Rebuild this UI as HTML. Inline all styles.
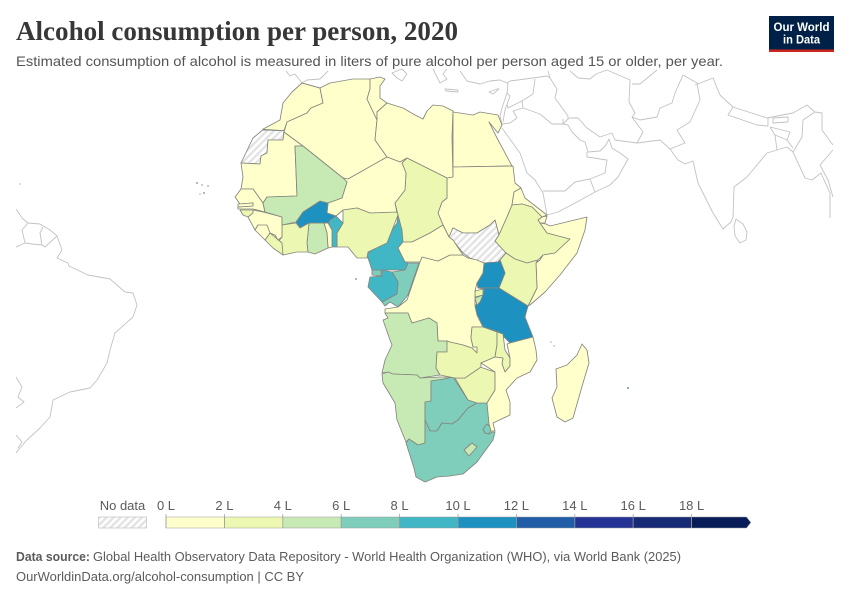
<!DOCTYPE html>
<html lang="en">
<head>
<meta charset="utf-8">
<title>Alcohol consumption per person, 2020</title>
<style>
html,body{margin:0;padding:0;background:#fff;}
svg{display:block;font-family:"Liberation Sans",sans-serif;}
</style>
</head>
<body>
<svg id="chart" xmlns="http://www.w3.org/2000/svg" width="850" height="600" viewBox="0 0 850 600">
  <defs>
    <pattern id="hatch" patternUnits="userSpaceOnUse" width="5" height="5" patternTransform="rotate(-45)">
      <rect width="5" height="5" fill="#ffffff"></rect>
      <rect width="5" height="2.4" fill="#e3e3e3"></rect>
    </pattern>
    <clipPath id="map-clip"><rect x="16" y="68" width="818" height="420"></rect></clipPath>
  </defs>
  <rect width="850" height="600" fill="#ffffff"></rect>

  <text x="16" y="40" font-family="'Liberation Serif',serif" font-weight="700" font-size="27" fill="#373737" textLength="442" lengthAdjust="spacingAndGlyphs">Alcohol consumption per person, 2020</text>
  <text x="16" y="66" font-size="14" fill="#555555" textLength="707" lengthAdjust="spacingAndGlyphs">Estimated consumption of alcohol is measured in liters of pure alcohol per person aged 15 or older, per year.</text>

  <g>
    <rect x="769" y="16" width="65" height="36" fill="#002147"></rect>
    <rect x="769" y="49.5" width="65" height="2.5" fill="#ce261e"></rect>
    <text x="801.5" y="31" text-anchor="middle" font-size="12" font-weight="700" fill="#ffffff" textLength="56" lengthAdjust="spacingAndGlyphs">Our World</text>
    <text x="801.5" y="43.5" text-anchor="middle" font-size="12" font-weight="700" fill="#ffffff" textLength="37" lengthAdjust="spacingAndGlyphs">in Data</text>
  </g>

  <g id="map" clip-path="url(#map-clip)">
    <g id="background-lands" fill="none" stroke="#c2c2c2" stroke-width="0.9" stroke-linejoin="round">
      <path d="M286,71 L290,76 L295,74 L302,83 L307,80 L320,79 L328,71"></path>
      <path d="M392,73 L402,69 L407,74 L402,81 L397,78 Z"></path>
      <path d="M433,69 L437,77 L440,83 L447,79 L443,74 L447,69"></path>
      <path d="M445,89 L458,90 L458,92 L446,91 Z"></path>
      <path d="M489,92 L497,89 L499,89 L493,94 Z"></path>
      <path d="M460,71 L467,81 L480,84 L490,81 L500,80 L507,83 L510,81 L533,78 L547,76 L550,78 L548,71"></path>
      <path d="M508,83 L507,93 L502,108 L500,116 L502,124 M535,79 L533,94 L522,101 L508,108 L507,104 M522,101 L523,108 L513,111 L517,118 L510,123 L502,124 M507,93 L510,96 L505,110 L503,122"></path>
      <path d="M523,108 L540,114 L552,124 L563,124 L568,119 L568,116 L555,98 L557,89 L550,78"></path>
      <path d="M563,119 L563,124 L568,125"></path>
      <path d="M568,119 L570,118 L578,118 L587,128 L600,137 L612,133 L615,140 L637,143 L660,140 L670,149 L678,160 L685,164 L693,161 L698,183 L713,213 L723,229 L731,222 L733,217 L734,187 L747,177 L767,153 L777,150 L787,147 L793,152 L805,178 L812,180 L821,173 L830,193 L830,218"></path>
      <path d="M736,219 L743,224 L747,232 L746,240 L740,243 L735,236 L734,226 Z"></path>
      <path d="M502,128 L520,153 L527,173 L535,180 L543,193 L547,215 L558,212 L577,202 L595,192 L610,185 L618,177 L628,159 L620,153 L612,148 L609,139 L606,145 L600,151 L588,152 L585,142 L580,140 L572,132 L568,125"></path>
      <path d="M543,191 L565,191 L575,182 L590,179 L605,173 L607,160 L587,157 L587,152 M590,179 L595,192"></path>
      <path d="M570,71 L578,78 L590,79 L596,74 L607,70"></path>
      <path d="M607,70 L630,80 L629,102 L635,113 L632,117 L643,132 L637,143"></path>
      <path d="M632,84 L640,84 L657,70 M683,75 L675,93 L672,103 L660,108 L657,117 L640,120 L632,117"></path>
      <path d="M683,75 L697,83 L700,100 L690,122 L677,130 L685,143 L670,149"></path>
      <path d="M695,85 L713,78 L720,95 L733,107 L767,118 L772,117 L793,113 L807,105 L815,112 L822,113 L822,130 L833,145"></path>
      <path d="M733,107 L728,115 L757,125 L768,126 L768,118"></path>
      <path d="M773,118 L788,117 L788,122 L773,123 Z"></path>
      <path d="M770,127 L775,135 L777,150 M770,127 L790,132 L787,140 L793,148 M775,135 L787,140"></path>
      <path d="M815,112 L803,120 L802,137 L793,152"></path>
      <path d="M833,150 L820,165 L828,180 L833,197"></path>
      <path d="M16,209 L22,218 L28,223 L40,224 L50,230 L57,236 L62,250 L57,258 L68,263 L69,266 L88,275 L110,279 L125,292 L133,293 L137,305 L133,317 L115,333 L110,350 L107,363 L97,380 L90,388 L70,392 L53,400 L50,417 L40,428 L27,440 L20,448 L16,453"></path>
      <path d="M28,223 L22,230 L25,243 L16,247 M25,243 L32,244 L42,245 L45,247 L57,236 M43,227 L40,233 L42,245"></path>
      <path d="M16,377 L22,387 L18,397 L24,402 L16,408 M16,435 L22,442 L18,448"></path>
    </g>
    <g id="countries" stroke="#85857e" stroke-width="0.85" stroke-linejoin="round"></g>
    <g id="islands" fill="#6f8f8f">
      <circle cx="197" cy="183" r="0.9"></circle>
      <circle cx="202" cy="185" r="0.7"></circle>
      <circle cx="208" cy="186" r="0.8"></circle>
      <circle cx="204" cy="193" r="0.9"></circle>
      <circle cx="200" cy="194" r="0.6"></circle>
      <circle cx="356" cy="279" r="0.9"></circle>
      <circle cx="551" cy="342" r="0.6"></circle>
      <circle cx="554" cy="346" r="0.6"></circle>
      <circle cx="628" cy="388" r="1"></circle>
      <circle cx="20" cy="184" r="0.9" fill="#cccccc"></circle>
    </g>
  </g>

  <g id="legend"></g>

  <text x="16" y="561" font-size="13" font-weight="700" fill="#5b5b5b" textLength="74" lengthAdjust="spacingAndGlyphs">Data source:</text>
  <text x="93" y="561" font-size="13" fill="#5b5b5b" textLength="588" lengthAdjust="spacingAndGlyphs">Global Health Observatory Data Repository - World Health Organization (WHO), via World Bank (2025)</text>
  <text x="16" y="581" font-size="13" fill="#5b5b5b" textLength="288" lengthAdjust="spacingAndGlyphs">OurWorldinData.org/alcohol-consumption | CC BY</text>
</svg>

<script>
// Legend data
const binTicks = [0, 2, 4, 6, 8, 10, 12, 14, 16, 18, 20];
const binColors = ["#ffffcc", "#ecf8b1", "#c7e9b4", "#7fcdbb", "#41b6c4", "#1d91c0", "#225ea8", "#253494", "#162a75", "#081d58"];
const tickLabels = ["0 L", "2 L", "4 L", "6 L", "8 L", "10 L", "12 L", "14 L", "16 L", "18 L"];

// Country data, litres per person (null = no data)
const countries = ["Morocco","Western Sahara","Mauritania","Algeria","Tunisia","Libya","Egypt","Sudan","South Sudan","Eritrea","Djibouti","Ethiopia","Somalia","Kenya","Uganda","Tanzania","Rwanda","Burundi","DR Congo","Congo","Gabon","Equatorial Guinea","Cameroon","Chad","Central African Republic","Niger","Nigeria","Benin","Togo","Ghana","Burkina Faso","Cote d'Ivoire","Liberia","Guinea","Sierra Leone","Guinea-Bissau","Senegal","Gambia","Mali","Angola","Namibia","Botswana","South Africa","Eswatini","Lesotho","Zimbabwe","Zambia","Malawi","Mozambique","Madagascar"];
const consumption = [0.5,null,0.1,0.6,1.3,0.1,0.1,0.5,null,1.0,0.5,3.1,0.1,3.1,10.9,10.8,3.8,4.2,1.5,7.5,8.9,7.1,9.0,3.2,1.5,0.5,3.4,8.7,1.7,4.5,10.5,3.0,2.9,0.8,1.2,2.6,0.9,1.8,4.7,5.0,5.5,7.5,7.6,7.1,5.0,3.5,3.8,3.6,1.6,1.5];

// Country outlines (map geometry, not data values)
const countryShapes = {
  "Morocco":"262.7,129.3 280,120 283,103 292,92 302,83 320,88 323,103 311,108 307,113 287,122 284,130.7",
  "Western Sahara":"262.7,130 284,130.7 283,140 268,140 267,153 261,156 260,164 241,163 253,138",
  "Mauritania":"241,163 260,164 261,156 267,153 268,140 283,140 284,132 303,146 295,146 297,196 267,197 263,203 253,189 241,189 243,177",
  "Algeria":"302,83 320,88 330,83 353,79 370,79 370,89 367,99 377,120 375,140 387,157 348,179 343,178 303,146 284,132 287,122 307,113 311,108 323,103 320,88",
  "Tunisia":"370,79 380,77 385,79 380,86 380,98 387,103 377,112 377,120 367,99 370,89",
  "Libya":"387,103 403,108 415,115 423,119 427,111 433,105 443,106 453,111 452,137 453,177 447,178 407,158 400,162 387,157 375,140 377,120 377,112",
  "Egypt":"453,112 473,115 480,112 498,115 502,125 498,133 489,122 497,138 512,166 453,167",
  "Sudan":"453,167 513,166 515,183 521,188 514,192 512,205 507,217 499,235 495,220 490,225 477,233 463,233 453,228 449,237 443,225 438,213 442,202 447,198 447,178 453,177",
  "South Sudan":"449,237 453,228 463,233 477,233 490,225 495,220 499,235 495,241 506,253 498,262 483,263 470,258 463,253 455,243",
  "Eritrea":"514,192 521,188 525,198 547,215 542,217 532,207 522,204 512,205",
  "Djibouti":"538,220 542,217 547,216 545,223 540,223",
  "Ethiopia":"512,205 522,204 532,207 542,217 538,220 540,223 547,233 570,239 555,253 543,255 538,260 527,263 515,259 506,253 495,241 499,235 507,217",
  "Somalia":"546,224 550,226 587,217 585,230 577,253 560,275 545,292 530,305 528,306 537,288 536,263 540,260 543,255 555,253 570,239 547,233 540,223",
  "Kenya":"500,260 506,253 515,259 527,263 538,260 536,263 537,288 528,306 499,288 505,273",
  "Uganda":"484,263 498,262 500,260 505,273 499,288 478,288 477,283 483,273",
  "Tanzania":"478,288 499,288 528,306 525,317 533,337 510,343 499,332 483,327 477,315 475,306 483,295 484,289",
  "Rwanda":"475,291 483,289 483,295 475,297",
  "Burundi":"475,298 483,295 480,302 477,305",
  "DR Congo":"420,262 422,257 438,261 450,255 463,255 468,258 477,260 484,263 483,273 477,283 475,291 475,306 477,315 483,327 472,327 471,338 473,347 477,347 477,353 472,348 463,345 450,342 447,341 438,341 437,323 429,318 412,323 408,313 385,313 385,309 398,307 407,300",
  "Congo":"408,263 419,263 408,295 398,307 390,302 385,306 382,302 397,294 398,282 392,272 405,270",
  "Gabon":"370,277 382,276 382,270 392,272 398,282 397,294 382,302 368,287",
  "Equatorial Guinea":"372,270 381,270 381,276 372,275",
  "Cameroon":"398,215 402,230 403,242 398,248 405,262 408,263 405,270 382,270 372,270 367,255 375,245 383,243 397,223",
  "Chad":"407,158 447,178 447,198 442,202 438,213 443,225 430,233 412,242 403,242 402,230 398,215 395,203 405,190 406,173 402,163",
  "Central African Republic":"403,242 398,248 405,262 420,262 422,257 438,261 450,255 463,255 453,240 449,237 443,225 430,233 412,242",
  "Niger":"387,157 400,162 407,158 402,163 406,173 405,190 395,203 397,213 370,213 357,208 343,210 336,216 327,213 328,203 342,198 347,182 343,178 348,179",
  "Nigeria":"343,210 357,208 370,213 397,212 398,215 387,243 368,252 367,258 357,258 348,247 337,247 337,233 343,223",
  "Benin":"330,220 336,216 343,223 337,233 337,247 332,247 332,230 328,225",
  "Togo":"324,223 328,223 332,230 332,247 328,248 327,233",
  "Ghana":"309,223 324,223 327,233 328,248 315,254 308,252 307,243",
  "Burkina Faso":"296,222 303,212 320,201 328,203 327,213 336,216 330,220 328,223 309,223 300,228",
  "Cote d'Ivoire":"282,225 296,223 300,228 309,223 307,243 308,252 297,252 283,255 278,242 282,237",
  "Liberia":"265,240 270,233 275,237 282,243 283,255 273,248",
  "Guinea":"248,217 253,210 263,212 282,217 282,237 278,240 275,235 270,233 267,227 258,225 255,230",
  "Sierra Leone":"255,230 258,225 267,225 270,233 265,240",
  "Guinea-Bissau":"240,210 253,210 253,213 248,217 243,215",
  "Senegal":"235,197 241,189 253,189 263,203 265,212 253,209 238,209 238,207 253,206 253,203 240,204",
  "Gambia":"238,204 253,203 253,206 238,207",
  "Mali":"295,146 303,146 343,178 347,182 342,198 328,203 320,201 303,212 296,222 282,225 282,217 265,212 263,203 267,197 297,196",
  "Angola":"385,313 408,313 412,323 429,318 437,323 438,341 447,341 448,352 437,352 436,368 440,375 420,378 417,375 393,374 388,372 382,373 385,360 392,345 390,340 383,320 388,318",
  "Namibia":"382,374 388,372 393,374 417,375 420,378 440,377 452,377 444,379 431,381 431,401 425,402 425,443 418,445 409,439 406,442 397,420 395,403 383,383",
  "Botswana":"431,381 444,379 453,377 468,400 477,403 468,408 458,420 452,424 442,423 437,431 430,431 425,420 425,402 431,401",
  "South Africa":"425,420 430,431 437,431 442,423 452,424 458,420 468,408 477,403 487,403 490,425 483,429 485,433 489,434 492,432 495,432 493,440 477,462 463,474 450,476 437,477 425,482 416,477 414,468 406,443 409,439 418,445 425,443",
  "Eswatini":"483,429 487,424 492,428 489,434 485,433",
  "Lesotho":"464,450 472,443 477,447 469,456",
  "Zimbabwe":"455,378 465,378 477,366 495,372 495,390 487,403 477,403 468,400",
  "Zambia":"447,341 450,342 463,345 472,348 477,353 477,347 473,347 471,338 472,327 483,327 497,332 497,345 495,357 481,363 481,367 465,378 455,378 440,375 436,368 437,352 447,352",
  "Malawi":"497,332 503,334 505,350 510,358 510,366 505,372 502,364 503,358 495,357 497,345",
  "Mozambique":"507,344 510,343 533,337 536,350 537,360 530,372 517,378 506,390 510,402 510,415 493,423 495,431 491,431 489,424 487,403 495,390 495,372 481,363 495,357 503,358 502,364 505,372 510,366 510,358",
  "Madagascar":"582,344 587,350 589,363 583,383 573,418 565,422 557,417 552,398 557,387 556,369 567,365 577,355"
};

const svgNS = "http://www.w3.org/2000/svg";

function slug(name) {
  return name.toLowerCase().replace(/[^a-z]+/g, "-");
}

// Colour scale: value -> bin colour
function colorFor(value) {
  if (value === null) return "url(#hatch)";
  for (let i = 0; i < binColors.length; i++) {
    if (value < binTicks[i + 1]) return binColors[i];
  }
  return binColors[binColors.length - 1];
}

// Legend axis: litres -> pixels
const legendLeft = 166;
const legendPxPerLitre = 29.2;
function legendX(v) {
  return legendLeft + (v - binTicks[0]) * legendPxPerLitre;
}

const countriesGroup = document.getElementById("countries");
countries.forEach(function (name, i) {
  const el = document.createElementNS(svgNS, "polygon");
  el.setAttribute("points", countryShapes[name]);
  el.setAttribute("fill", colorFor(consumption[i]));
  
  
  const tip = document.createElementNS(svgNS, "title");
  tip.textContent = name + (consumption[i] === null ? ": No data" : ": " + consumption[i] + " L");
  el.appendChild(tip);
  countriesGroup.appendChild(el);
});

const legend = document.getElementById("legend");

const noDataBox = document.createElementNS(svgNS, "rect");
noDataBox.setAttribute("x", "98.5");
noDataBox.setAttribute("y", "517");
noDataBox.setAttribute("width", "48");
noDataBox.setAttribute("height", "11");
noDataBox.setAttribute("fill", "url(#hatch)");
noDataBox.setAttribute("stroke", "#c9c9c9");
noDataBox.setAttribute("stroke-width", "0.8");


legend.appendChild(noDataBox);

const noDataLabel = document.createElementNS(svgNS, "text");
noDataLabel.setAttribute("x", "122.5");
noDataLabel.setAttribute("y", "510");
noDataLabel.setAttribute("text-anchor", "middle");
noDataLabel.setAttribute("font-size", "13");
noDataLabel.setAttribute("fill", "#5b5b5b");


noDataLabel.textContent = "No data";
legend.appendChild(noDataLabel);

binColors.forEach(function (color, i) {
  const x0 = legendX(binTicks[i]);
  const x1 = legendX(binTicks[i + 1]);
  const last = i === binColors.length - 1;
  const bin = document.createElementNS(svgNS, "path");
  const d = "M" + x0 + ",517 L" + (last ? x1 - 3.5 : x1) + ",517 " +
    (last ? "L" + (x1 + 0.8) + ",522.5 L" + (x1 - 3.5) + ",528 " : "L" + x1 + ",528 ") +
    "L" + x0 + ",528 Z";
  bin.setAttribute("d", d);
  bin.setAttribute("fill", color);
  bin.setAttribute("stroke", "#9a9a9a");
  bin.setAttribute("stroke-width", "0.6");
  
  
  legend.appendChild(bin);
});

tickLabels.forEach(function (label, i) {
  const x = legendX(binTicks[i]);
  const tick = document.createElementNS(svgNS, "line");
  tick.setAttribute("x1", x);
  tick.setAttribute("x2", x);
  tick.setAttribute("y1", "514");
  tick.setAttribute("y2", "528");
  tick.setAttribute("stroke", "#999999");
  tick.setAttribute("stroke-width", "0.7");
  
  
  legend.appendChild(tick);

  const text = document.createElementNS(svgNS, "text");
  text.setAttribute("x", x);
  text.setAttribute("y", "510");
  text.setAttribute("text-anchor", "middle");
  text.setAttribute("font-size", "13");
  text.setAttribute("fill", "#5b5b5b");
  
  
  text.textContent = label;
  legend.appendChild(text);
});
</script>
</body>
</html>
